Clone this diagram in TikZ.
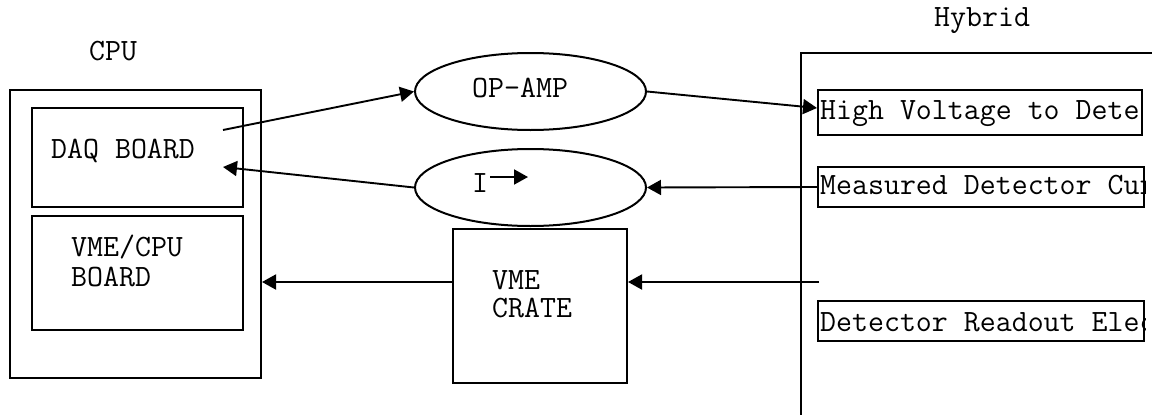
\documentclass[tikz,border=0pt]{standalone}
\usepackage{fontspec}
\usetikzlibrary{shapes.geometric,arrows.meta}
\begin{document}
\begin{tikzpicture}[x=1pt,y=-1pt,
  box/.style={draw,line width=2pt,inner sep=0pt},
  oval/.style={draw,ellipse,line width=2pt,inner sep=0pt,minimum width=231pt,minimum height=77pt},
  lbl/.style={inner sep=0pt,anchor=base west,font=\ttfamily\fontsize{31}{35}\selectfont},
  arr/.style={line width=1.9pt,-{Triangle[length=14pt,width=15pt]}},
  ln/.style={line width=1.9pt}]
\useasboundingbox (0,0) rectangle (1152,415);
\clip (0,0) rectangle (1152,415);
% CPU
\node[lbl] (cpul) at (89,60) {CPU};
\node[box,minimum width=251pt,minimum height=288pt] (cpu) at (135.5,234) {};
\node[box,minimum width=211pt,minimum height=99pt] (daq) at (137.5,157.5) {};
\node[box,minimum width=211pt,minimum height=114pt] (vme) at (137.5,273) {};
\node[lbl] (daql) at (51,158) {DAQ BOARD};
\node[lbl] (vmel1) at (71,256) {VME/CPU};
\node[lbl] (vmel2) at (71,286) {BOARD};
% ellipses
\node[oval] (opamp) at (530.5,91.5) {};
\node[lbl] (opampl) at (472,97) {OP-AMP};
\node[oval] (curr) at (530.5,187.5) {};
\node[lbl] (currl) at (472,192) {I};
\coordinate (ia) at (490,177);
\coordinate (ib) at (528,177);
\draw[arr] (ia) -- (ib);
% crate
\node[box,minimum width=174pt,minimum height=154pt] (crate) at (540,306) {};
\node[lbl] (cratel1) at (492,289) {VME};
\node[lbl] (cratel2) at (492,317) {CRATE};
% hybrid
\node[lbl] (hybl) at (934,26) {Hybrid};
\node[box,anchor=north west,minimum width=500pt,minimum height=500pt] (hyb) at (799.5,52) {};
\node[box,minimum width=324pt,minimum height=45pt] (hv) at (980,112.5) {};
\node[box,minimum width=326pt,minimum height=40pt] (meas) at (981,187) {};
\node[box,minimum width=326pt,minimum height=40pt] (ro) at (981,321) {};
\begin{scope}
\clip (hv.south west) rectangle (hv.north east);
\node[lbl] (hvl) at (820,119) {High Voltage to Dete};
\end{scope}
\begin{scope}
\clip (meas.south west) rectangle (meas.north east);
\node[lbl] (measl) at (820,194) {Measured Detector Cur};
\end{scope}
\begin{scope}
\clip (ro.south west) rectangle (ro.north east);
\node[lbl] (rol) at (820,331) {Detector Readout Elec};
\end{scope}
% connectors
\coordinate (daqout) at (223,130);
\coordinate (daqin) at (223,167);
\coordinate (rin) at (819,282);
\draw[arr] (daqout) -- (opamp.west);
\draw[arr] (curr.west) -- (daqin);
\draw[arr] (opamp.east) -- ([yshift=4.5pt]hv.west);
\draw[arr] (meas.west) -- (curr.east);
\draw[arr] (rin) -- (crate.east |- rin);
\draw[arr] (crate.west |- rin) -- (cpu.east |- rin);
\end{tikzpicture}
\end{document}
